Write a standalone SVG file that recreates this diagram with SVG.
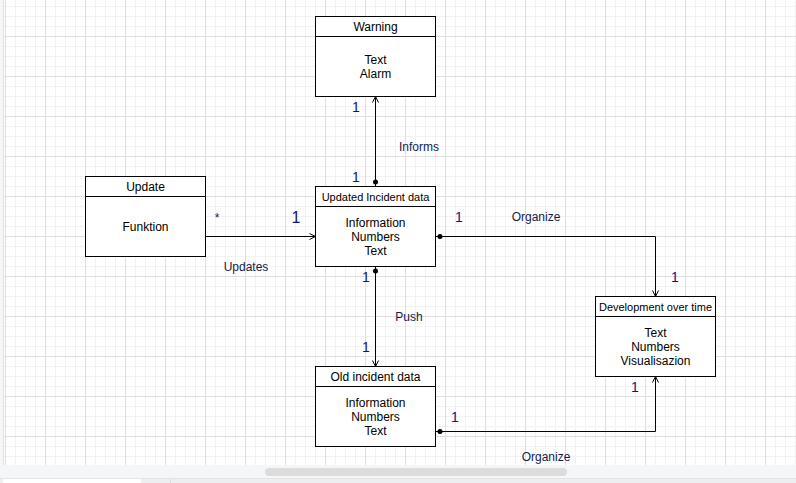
<svg xmlns="http://www.w3.org/2000/svg" width="796" height="483" viewBox="0 0 796 483">
<defs>
<pattern id="grid" patternUnits="userSpaceOnUse" x="5" y="-4" width="40" height="40">
<rect width="40" height="40" fill="#ffffff"/>
<g fill="#f2f2f2">
<rect x="10" y="0" width="1" height="40"/><rect x="20" y="0" width="1" height="40"/><rect x="30" y="0" width="1" height="40"/>
<rect x="0" y="10" width="40" height="1"/><rect x="0" y="20" width="40" height="1"/><rect x="0" y="30" width="40" height="1"/>
</g>
<g fill="#dedede">
<rect x="0" y="0" width="1" height="40"/><rect x="0" y="0" width="40" height="1"/>
</g>
</pattern>
<marker id="open" viewBox="-8 -5 10 10" refX="0" refY="0" markerWidth="10" markerHeight="10" markerUnits="userSpaceOnUse" orient="auto">
<path d="M-6,-3 L0,0 L-6,3" fill="none" stroke="#000" stroke-width="1"/>
</marker>
</defs>
<style>
.box{fill:#fff;stroke:#000;stroke-width:1}
.div{stroke:#000;stroke-width:1}
.t{font-family:"Liberation Sans",Arial,sans-serif;font-size:12px;fill:#000;text-anchor:middle}
.h11{font-size:11px}
.lbl{font-family:"Liberation Sans",Arial,sans-serif;font-size:12px;fill:#14204a;text-anchor:middle}
.n{font-family:"Liberation Sans",Arial,sans-serif;font-size:14px;fill:#10157a;text-anchor:middle}
.edge{fill:none;stroke:#000;stroke-width:1}
.dot{fill:#000}
</style>
<rect x="0" y="0" width="796" height="483" fill="#f5f6f8"/>
<rect x="3" y="0" width="793" height="465" fill="url(#grid)"/>
<rect x="3" y="0" width="1" height="465" fill="#e2e2e2"/>
<rect x="265" y="468" width="302" height="8" rx="4" fill="#dcdcdc"/>
<rect x="0" y="478" width="796" height="1" fill="#e2e4e6"/>
<rect x="0" y="479" width="796" height="4" fill="#eceef0"/>
<rect x="3" y="479" width="138" height="4" fill="#ffffff"/>
<rect x="170" y="479" width="1" height="4" fill="#dcdcdc"/>

<g id="connectors">
<path class="edge" d="M375.5,186.5 V96.5" marker-end="url(#open)"/>
<circle class="dot" cx="375.5" cy="182" r="2.5"/>
<path class="edge" d="M205.5,236.5 H315.5" marker-end="url(#open)"/>
<path class="edge" d="M435.5,236.5 H655.5 V296.5" marker-end="url(#open)"/>
<circle class="dot" cx="440" cy="236.5" r="2.5"/>
<path class="edge" d="M375.5,266.5 V366.5" marker-end="url(#open)"/>
<circle class="dot" cx="375.5" cy="271" r="2.5"/>
<path class="edge" d="M435.5,431.5 H655.5 V376.5" marker-end="url(#open)"/>
<circle class="dot" cx="440" cy="431.5" r="2.5"/>
<text class="lbl" x="419" y="151">Informs</text>
<text class="lbl" x="246" y="271">Updates</text>
<text class="lbl" x="536" y="221">Organize</text>
<text class="lbl" x="409" y="321">Push</text>
<text class="lbl" x="546" y="461">Organize</text>
<text class="lbl" x="217" y="222">*</text>
<text class="n" x="356" y="112">1</text>
<text class="n" x="356" y="182">1</text>
<text class="n" x="296" y="222.5" style="font-size:16px">1</text>
<text class="n" x="459" y="222">1</text>
<text class="n" x="675" y="282">1</text>
<text class="n" x="366" y="282">1</text>
<text class="n" x="366" y="352">1</text>
<text class="n" x="635" y="392">1</text>
<text class="n" x="455" y="422">1</text>
</g>

<g id="warning">
<rect class="box" x="315.5" y="16.5" width="120" height="80"/>
<line class="div" x1="315.5" y1="36.5" x2="435.5" y2="36.5"/>
<text class="t" x="375.5" y="30.8">Warning</text>
<text class="t" x="375.5" y="63.6">Text</text>
<text class="t" x="375.5" y="77.6">Alarm</text>
</g>

<g id="updated">
<rect class="box" x="315.5" y="186.5" width="120" height="80"/>
<line class="div" x1="315.5" y1="206.5" x2="435.5" y2="206.5"/>
<text class="t h11" x="375.5" y="200.5">Updated Incident data</text>
<text class="t" x="375.5" y="227">Information</text>
<text class="t" x="375.5" y="241">Numbers</text>
<text class="t" x="375.5" y="255">Text</text>
</g>

<g id="update">
<rect class="box" x="85.5" y="176.5" width="120" height="80"/>
<line class="div" x1="85.5" y1="196.5" x2="205.5" y2="196.5"/>
<text class="t" x="145.5" y="190.8">Update</text>
<text class="t" x="145.5" y="230.8">Funktion</text>
</g>

<g id="development">
<rect class="box" x="595.5" y="296.5" width="120" height="80"/>
<line class="div" x1="595.5" y1="316.5" x2="715.5" y2="316.5"/>
<text class="t h11" x="655.5" y="310.5">Development over time</text>
<text class="t" x="655.5" y="337">Text</text>
<text class="t" x="655.5" y="351">Numbers</text>
<text class="t" x="655.5" y="365">Visualisazion</text>
</g>

<g id="old">
<rect class="box" x="315.5" y="366.5" width="120" height="80"/>
<line class="div" x1="315.5" y1="386.5" x2="435.5" y2="386.5"/>
<text class="t" x="375.5" y="380.8">Old incident data</text>
<text class="t" x="375.5" y="407">Information</text>
<text class="t" x="375.5" y="421">Numbers</text>
<text class="t" x="375.5" y="435">Text</text>
</g>
</svg>
